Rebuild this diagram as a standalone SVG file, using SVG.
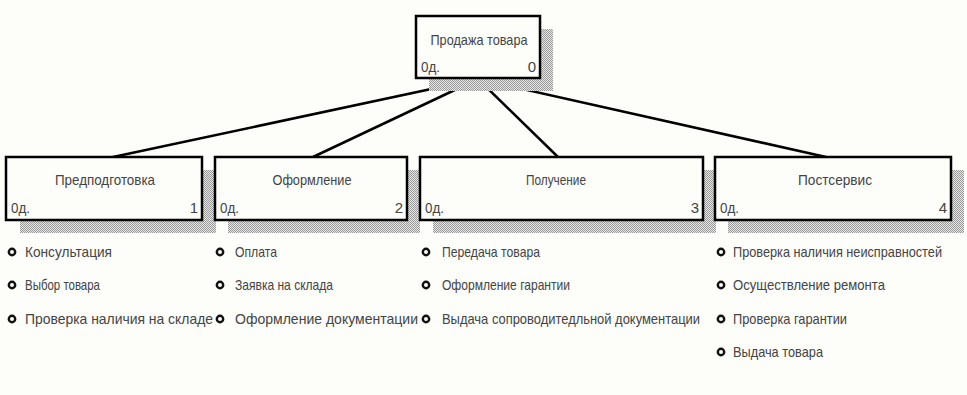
<svg xmlns="http://www.w3.org/2000/svg" width="967" height="395" viewBox="0 0 967 395">
<defs>
<pattern id="dots" width="2" height="2" patternUnits="userSpaceOnUse">
<rect width="2" height="2" fill="#e6e6e2"/>
<rect width="1" height="1" fill="#9a9a9a"/>
<rect x="1" y="1" width="1" height="1" fill="#9a9a9a"/>
</pattern>
</defs>
<style>
.shadow{fill:url(#dots);}
.box{fill:#fdfdf9;stroke:#000;stroke-width:2.5;}
.t{font-family:"Liberation Sans",Arial,sans-serif;font-size:15px;fill:#444;}
.c{text-anchor:middle;}
.r{text-anchor:end;}
.bul{fill:none;stroke:#111;stroke-width:2.4;}
.conn{stroke:#000;stroke-width:2.5;fill:none;stroke-linecap:round;}
</style>
<rect width="967" height="395" fill="#fdfdf9"/>
<g id="connectors">
<line class="conn" x1="478" y1="79" x2="113" y2="157"/>
<line class="conn" x1="478" y1="79" x2="313" y2="157"/>
<line class="conn" x1="478" y1="79" x2="558" y2="157"/>
<line class="conn" x1="478" y1="79" x2="826" y2="157"/>
</g>
<g id="node0">
<rect class="shadow" x="429" y="29" width="124" height="62"/>
<rect class="box" x="416" y="16" width="124" height="62"/>
<text class="t c" x="479" y="45" textLength="97" lengthAdjust="spacingAndGlyphs">Продажа товара</text>
<text class="t" x="421" y="72" textLength="19" lengthAdjust="spacingAndGlyphs">0д.</text>
<text class="t r" x="536" y="72">0</text>
</g>
<g id="node1">
<rect class="shadow" x="20" y="170" width="196" height="63"/>
<rect class="box" x="6" y="157" width="196" height="63"/>
<text class="t c" x="105" y="185" textLength="100" lengthAdjust="spacingAndGlyphs">Предподготовка</text>
<text class="t" x="11" y="213" textLength="19" lengthAdjust="spacingAndGlyphs">0д.</text>
<text class="t r" x="198" y="213">1</text>
<circle class="bul" cx="12" cy="252" r="3.2"/>
<text class="t" x="25" y="257" textLength="87" lengthAdjust="spacingAndGlyphs">Консультация</text>
<circle class="bul" cx="12" cy="285" r="3.2"/>
<text class="t" x="25" y="290" textLength="75" lengthAdjust="spacingAndGlyphs">Выбор товара</text>
<circle class="bul" cx="12" cy="319" r="3.2"/>
<text class="t" x="25" y="324" textLength="188" lengthAdjust="spacingAndGlyphs">Проверка наличия на складе</text>
</g>
<g id="node2">
<rect class="shadow" x="228" y="170" width="192" height="63"/>
<rect class="box" x="215" y="157" width="192" height="63"/>
<text class="t c" x="312" y="185" textLength="79" lengthAdjust="spacingAndGlyphs">Оформление</text>
<text class="t" x="220" y="213" textLength="19" lengthAdjust="spacingAndGlyphs">0д.</text>
<text class="t r" x="403" y="213">2</text>
<circle class="bul" cx="220" cy="252" r="3.2"/>
<text class="t" x="235" y="257" textLength="42" lengthAdjust="spacingAndGlyphs">Оплата</text>
<circle class="bul" cx="220" cy="285" r="3.2"/>
<text class="t" x="235" y="290" textLength="98" lengthAdjust="spacingAndGlyphs">Заявка на склада</text>
<circle class="bul" cx="220" cy="319" r="3.2"/>
<text class="t" x="235" y="324" textLength="183" lengthAdjust="spacingAndGlyphs">Оформление документации</text>
</g>
<g id="node3">
<rect class="shadow" x="433" y="170" width="283" height="63"/>
<rect class="box" x="420" y="157" width="283" height="63"/>
<text class="t c" x="556" y="185" textLength="60" lengthAdjust="spacingAndGlyphs">Получение</text>
<text class="t" x="425" y="213" textLength="19" lengthAdjust="spacingAndGlyphs">0д.</text>
<text class="t r" x="699" y="213">3</text>
<circle class="bul" cx="426" cy="252" r="3.2"/>
<text class="t" x="442" y="257" textLength="98" lengthAdjust="spacingAndGlyphs">Передача товара</text>
<circle class="bul" cx="426" cy="285" r="3.2"/>
<text class="t" x="442" y="290" textLength="128" lengthAdjust="spacingAndGlyphs">Оформление гарантии</text>
<circle class="bul" cx="426" cy="319" r="3.2"/>
<text class="t" x="442" y="324" textLength="258" lengthAdjust="spacingAndGlyphs">Выдача сопроводитедльной документации</text>
</g>
<g id="node4">
<rect class="shadow" x="728" y="170" width="236" height="63"/>
<rect class="box" x="715" y="157" width="236" height="63"/>
<text class="t c" x="835" y="185" textLength="74" lengthAdjust="spacingAndGlyphs">Постсервис</text>
<text class="t" x="720" y="213" textLength="19" lengthAdjust="spacingAndGlyphs">0д.</text>
<text class="t r" x="947" y="213">4</text>
<circle class="bul" cx="721" cy="252" r="3.2"/>
<text class="t" x="733" y="257" textLength="209" lengthAdjust="spacingAndGlyphs">Проверка наличия неисправностей</text>
<circle class="bul" cx="721" cy="285" r="3.2"/>
<text class="t" x="733" y="290" textLength="152" lengthAdjust="spacingAndGlyphs">Осуществление ремонта</text>
<circle class="bul" cx="721" cy="319" r="3.2"/>
<text class="t" x="733" y="324" textLength="114" lengthAdjust="spacingAndGlyphs">Проверка гарантии</text>
<circle class="bul" cx="721" cy="352" r="3.2"/>
<text class="t" x="733" y="357" textLength="90" lengthAdjust="spacingAndGlyphs">Выдача товара</text>
</g>
</svg>
